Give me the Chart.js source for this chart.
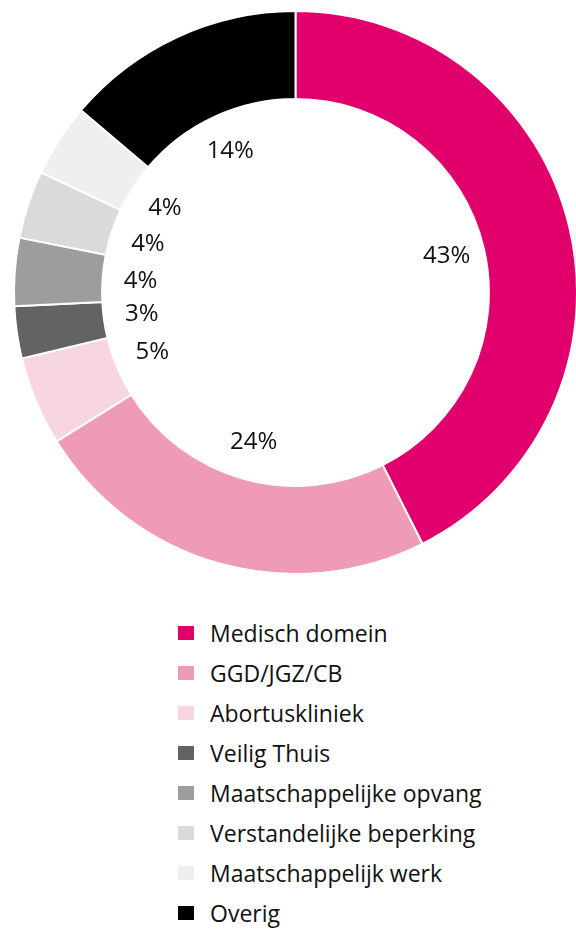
<!DOCTYPE html>
<html>
<head>
<meta charset="utf-8">
<script src="https://cdn.jsdelivr.net/npm/chart.js@4"></script>
<style>
    html, body { margin: 0; padding: 0; background: #fff; overflow: hidden; }
    body { width: 576px; height: 929px; position: relative; }
    #chart-box { position: absolute; left: 0; top: 0; width: 578px; height: 586px; }
    #legend { position: absolute; left: 178px; top: 613px; font-family: "Open Sans", sans-serif; font-size: 23px; color: #111; }
    .row { height: 40px; display: flex; align-items: center; }
    .box { width: 16px; height: 14px; margin-right: 16px; }
</style>
</head>
<body>
<div id="chart-box"><canvas id="donut"></canvas></div>
<div id="legend"></div>
<script>
// categorieën en aandelen
const categories = ["Medisch domein", "GGD/JGZ/CB", "Abortuskliniek", "Veilig Thuis",
    "Maatschappelijke opvang", "Verstandelijke beperking", "Maatschappelijk werk", "Overig"];
const shares = [42.6, 23.6, 5.1, 3.0, 3.9, 3.9, 4.2, 13.8];
const shareLabels = ["43%", "24%", "5%", "3%", "4%", "4%", "4%", "14%"];
const colors = ["#e1006b", "#ef9bb5", "#f8d6e1", "#636363", "#9d9d9d", "#d9dadb", "#efefef", "#000000"];

// percentages binnen het gat
const innerLabels = {
    id: "innerLabels",
    afterDatasetsDraw(chart) {
        const ctx = chart.ctx;
        const meta = chart.getDatasetMeta(0);
        ctx.save();
        ctx.font = "24px 'Open Sans', sans-serif";
        ctx.fillStyle = "#111";
        ctx.textAlign = "center";
        ctx.textBaseline = "middle";
        meta.data.forEach((arc, i) => {
            const mid = (arc.startAngle + arc.endAngle) / 2;
            const r = arc.innerRadius - 38;
            ctx.fillText(shareLabels[i], arc.x + Math.cos(mid) * r, arc.y + Math.sin(mid) * r);
        });
        ctx.restore();
    }
};

new Chart(document.getElementById("donut").getContext("2d"), {
    type: "doughnut",
    data: {
        labels: categories,
        datasets: [{
            data: shares,
            backgroundColor: colors,
            borderColor: "#ffffff",
            borderWidth: 2,
        }],
    },
    options: {
        responsive: true,
        maintainAspectRatio: false,
        animation: false,
        cutout: "68.7%",
        layout: { padding: { left: 13, right: 0, top: 10, bottom: 11 } },
        plugins: {
            legend: { display: false },
            tooltip: { enabled: false },
        },
    },
    plugins: [innerLabels],
});

// legenda
const legend = document.getElementById("legend");
categories.forEach((name, i) => {
    const row = document.createElement("div");
    row.className = "row";
    const box = document.createElement("div");
    box.className = "box";
    box.style.background = colors[i];
    const txt = document.createElement("span");
    txt.textContent = name;
    row.appendChild(box);
    row.appendChild(txt);
    legend.appendChild(row);
});
</script>
</body>
</html>
